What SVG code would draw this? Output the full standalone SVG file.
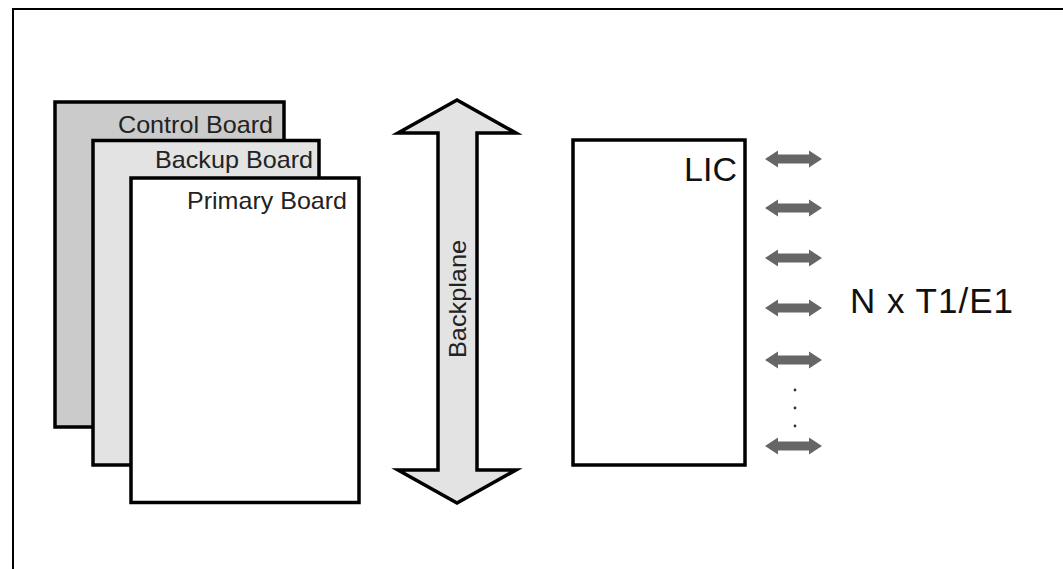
<svg xmlns="http://www.w3.org/2000/svg" width="1063" height="569" viewBox="0 0 1063 569">
<defs>
<style>
.board{stroke:#000;stroke-width:3.5}
.lbl{font-family:"Liberation Sans",Arial,sans-serif;font-size:24px;fill:#222;text-anchor:end}
.big{font-family:"Liberation Sans",Arial,sans-serif;fill:#111}
.link{fill:#666}
</style>
<polygon id="dbl" class="link" points="-28.5,0 -15.5,-8.5 -15.5,-4.5 15.5,-4.5 15.5,-8.5 28.5,0 15.5,8.5 15.5,4.5 -15.5,4.5 -15.5,8.5"/>
</defs>
<rect width="1063" height="569" fill="#fff"/>
<path d="M13,569 V9 H1063" fill="none" stroke="#000" stroke-width="2"/>
<g id="control-board">
<rect class="board" x="55" y="102" width="229" height="325" fill="#cbcbcb"/>
<text class="lbl" x="273" y="133" textLength="155" lengthAdjust="spacingAndGlyphs">Control Board</text>
</g>
<g id="backup-board">
<rect class="board" x="93" y="140.5" width="226" height="324.5" fill="#e3e3e3"/>
<text class="lbl" x="313" y="168" textLength="158" lengthAdjust="spacingAndGlyphs">Backup Board</text>
</g>
<g id="primary-board">
<rect class="board" x="131" y="178" width="228" height="324.5" fill="#fff"/>
<text class="lbl" x="347" y="209" textLength="160" lengthAdjust="spacingAndGlyphs">Primary Board</text>
</g>
<g id="backplane">
<polygon points="457,100 516,133 477,133 477,470 516,470 457,503 398,470 438,470 438,133 398,133" fill="#e3e3e3" stroke="#000" stroke-width="3.5" stroke-linejoin="miter"/>
<text class="lbl" transform="translate(466,299) rotate(-90)" style="text-anchor:middle" textLength="118" lengthAdjust="spacingAndGlyphs">Backplane</text>
</g>
<g id="lic">
<rect class="board" x="573" y="140" width="172" height="325" fill="#fff"/>
<text class="big" x="737" y="181" font-size="34" text-anchor="end">LIC</text>
</g>
<g id="connectors">
<use href="#dbl" x="793.5" y="159"/>
<use href="#dbl" x="793.5" y="208"/>
<use href="#dbl" x="793.5" y="258"/>
<use href="#dbl" x="793.5" y="308"/>
<use href="#dbl" x="793.5" y="360"/>
<use href="#dbl" x="793.5" y="446"/>
<circle cx="795" cy="390" r="1.4" fill="#333"/>
<circle cx="795" cy="408" r="1.4" fill="#333"/>
<circle cx="795" cy="426" r="1.4" fill="#333"/>
</g>
<g id="label-t1e1">
<text class="big" x="850" y="313" font-size="35" textLength="163" lengthAdjust="spacing">N x T1/E1</text>
</g>
</svg>
